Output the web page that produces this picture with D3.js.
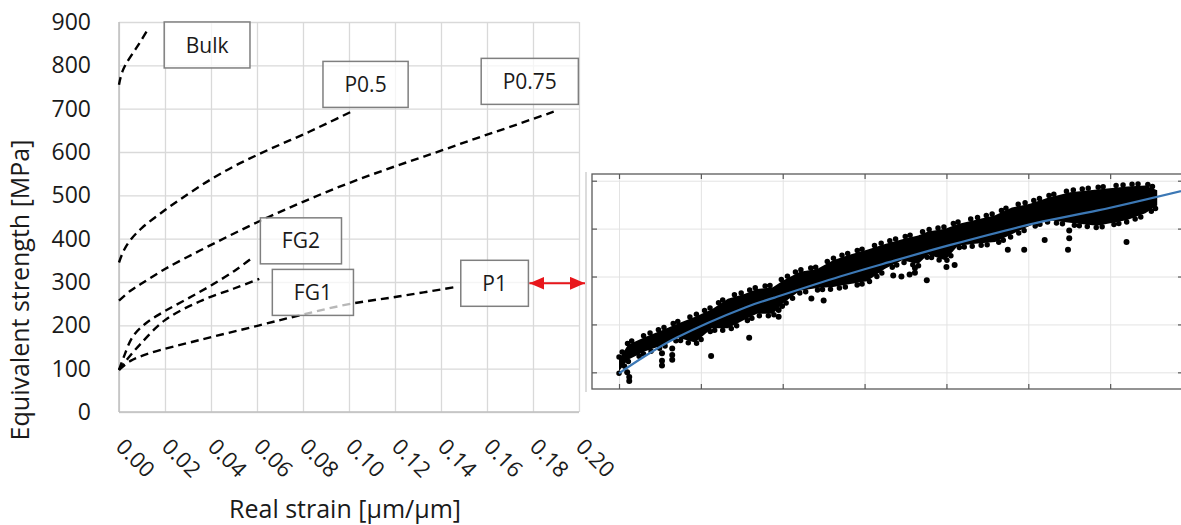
<!DOCTYPE html>
<html>
<head>
<meta charset="utf-8">
<script src="https://cdn.jsdelivr.net/npm/d3@7"></script>
<style>
  body { margin: 0; background: #fff; }
</style>
</head>
<body>
<div id="chart"></div>
<script>
// tick labels
const strainTicks = [0, 0.02, 0.04, 0.06, 0.08, 0.10, 0.12, 0.14, 0.16, 0.18, 0.20];
const stressTicks = [0, 100, 200, 300, 400, 500, 600, 700, 800, 900];

// curves (strain, MPa)
const bulkStrain = [0, 0.0005, 0.0015, 0.003, 0.006, 0.009, 0.012];
const bulkStress = [755, 768, 786, 803, 828, 852, 878];
const p05Strain = [0, 0.002, 0.005, 0.01, 0.02, 0.03, 0.04, 0.05, 0.06, 0.07, 0.08, 0.09, 0.101];
const p05Stress = [345, 372, 397, 425, 466, 503, 537, 567, 593, 617, 640, 665, 693];
const p075Strain = [0, 0.005, 0.01, 0.02, 0.035, 0.05, 0.065, 0.08, 0.095, 0.11, 0.125, 0.14, 0.155, 0.17, 0.189];
const p075Stress = [257, 280, 297, 330, 372, 412, 450, 485, 518, 548, 576, 603, 631, 658, 693];
const fg2Strain = [0, 0.002, 0.006, 0.012, 0.02, 0.03, 0.04, 0.05, 0.057];
const fg2Stress = [97, 126, 174, 206, 233, 262, 292, 325, 352];
const fg1Strain = [0, 0.003, 0.009, 0.02, 0.035, 0.05, 0.061];
const fg1Stress = [97, 118, 155, 212, 255, 285, 307];
const p1Strain = [0, 0.005, 0.0135, 0.035, 0.061, 0.08, 0.1, 0.122, 0.147];
const p1Stress = [97, 118, 136, 166, 200, 225, 249, 267, 289];

// label boxes (centre, in data units)
const labelNames = ['Bulk', 'P0.5', 'P0.75', 'FG2', 'FG1', 'P1'];
const labelStrain = [0.0383, 0.1072, 0.1786, 0.0791, 0.0843, 0.1633];
const labelStress = [847, 756, 763, 395, 276, 297];

// inset: P1 measured points, read as the envelope of the dot cloud
const insetStrainTicks = [0, 0.02, 0.04, 0.06, 0.08, 0.10, 0.12];
const insetStressTicks = [100, 150, 200, 250, 300];
const bandStrain = [0, 0.0022, 0.0064, 0.0105, 0.0144, 0.0186, 0.0227, 0.0266, 0.0308, 0.0337, 0.0376, 0.0401,
  0.0442, 0.0484, 0.0523, 0.0565, 0.0606, 0.0650, 0.0692, 0.0731, 0.0755, 0.0797, 0.0828, 0.0870, 0.0919,
  0.0960, 0.1004, 0.1046, 0.1102, 0.1168, 0.1242, 0.1286, 0.1315];
const bandUpper = [116, 131, 139, 146, 153, 160, 168, 179, 184, 189, 191, 198, 207, 210, 219, 225, 230, 236, 241,
  245, 249, 252, 257, 261, 266, 274, 278, 284, 290, 293, 296, 297, 292];
const bandLower = [99, 111, 120, 126, 134, 129, 144, 144, 153, 159, 159, 170, 183, 186, 187, 190, 193, 206, 215,
  211, 221, 215, 230, 232, 234, 242, 251, 257, 254, 251, 257, 264, 272];
const outStrain = [0.002, 0.0025, 0.0025, 0.0105, 0.0105, 0.0105, 0.013, 0.013, 0.013, 0.0225, 0.0318, 0.039, 0.039,
  0.047, 0.050, 0.067, 0.069, 0.071, 0.0723, 0.0723, 0.0752, 0.080, 0.082, 0.095, 0.099, 0.104, 0.110, 0.110,
  0.1097, 0.124];
const outStress = [100, 95, 91, 120, 112, 107, 125, 118, 113, 117, 136, 165, 158, 177, 175, 201, 200, 202, 204, 209,
  196, 210, 212, 228, 228, 238, 240, 248, 228, 236];
const fitStrain = [0, 0.006, 0.014, 0.031, 0.038, 0.054, 0.066, 0.081, 0.102, 0.117, 0.14];
const fitStress = [99, 116, 136, 168, 178, 200, 215, 233, 256, 269, 292];

const font = '"Open Sans", Lato, sans-serif';
const ink = '#1a1a1a';

const svg = d3.select('#chart')
  .append('svg')
  .attr('width', 1181)
  .attr('height', 525)
  .style('font-family', font);

const plot = {left: 119, right: 579, top: 22, bottom: 412};
const x = d3.scaleLinear().domain([0, 0.2]).range([plot.left, plot.right]);
const y = d3.scaleLinear().domain([0, 900]).range([plot.bottom, plot.top]);

// vertical grid + rotated strain labels
const xAxis = svg.append('g')
  .attr('transform', `translate(0,${plot.bottom})`)
  .call(d3.axisBottom(x).tickValues(strainTicks)
    .tickSize(-(plot.bottom - plot.top)).tickFormat(d3.format('.2f')))
  .attr('font-family', font).attr('font-size', 22);
xAxis.select('.domain').remove();
xAxis.selectAll('line').attr('stroke', '#d9d9d9').attr('stroke-width', 1.3);
xAxis.selectAll('text')
  .attr('y', 0).attr('dy', 0)
  .attr('text-anchor', 'start')
  .attr('transform', 'translate(-5,36) rotate(45)')
  .attr('fill', ink);

// horizontal grid + stress labels
const yAxis = svg.append('g')
  .attr('transform', `translate(${plot.left},0)`)
  .call(d3.axisLeft(y).tickValues(stressTicks)
    .tickSize(-(plot.right - plot.left)).tickPadding(28))
  .attr('font-family', font).attr('font-size', 23);
yAxis.select('.domain').remove();
yAxis.selectAll('line').attr('stroke', '#d9d9d9').attr('stroke-width', 1.3);
yAxis.selectAll('text').attr('fill', ink);

// axis lines
svg.append('line')
  .attr('x1', plot.left).attr('x2', plot.left)
  .attr('y1', plot.top).attr('y2', plot.bottom)
  .attr('stroke', '#bfbfbf').attr('stroke-width', 1.5);
svg.append('line')
  .attr('x1', plot.left).attr('x2', plot.right)
  .attr('y1', plot.bottom).attr('y2', plot.bottom)
  .attr('stroke', '#bfbfbf').attr('stroke-width', 1.5);

// axis titles
svg.append('text')
  .attr('transform', 'translate(29,290) rotate(-90)')
  .attr('text-anchor', 'middle')
  .attr('font-size', 25)
  .attr('fill', ink)
  .text('Equivalent strength [MPa]');
svg.append('text')
  .attr('x', 345).attr('y', 518)
  .attr('text-anchor', 'middle')
  .attr('font-size', 25)
  .attr('fill', ink)
  .text('Real strain [µm/µm]');

// dashed curves
const curves = [
  [bulkStrain, bulkStress],
  [p05Strain, p05Stress],
  [p075Strain, p075Stress],
  [fg2Strain, fg2Stress],
  [fg1Strain, fg1Stress],
  [p1Strain, p1Stress]
];
const line = d3.line()
  .x(d => x(d[0]))
  .y(d => y(d[1]))
  .curve(d3.curveCatmullRom.alpha(0.5));
svg.selectAll('path.curve')
  .data(curves)
  .join('path')
  .attr('class', 'curve')
  .attr('d', d => line(d3.zip(d[0], d[1])))
  .attr('fill', 'none')
  .attr('stroke', '#000')
  .attr('stroke-width', 2.4)
  .attr('stroke-dasharray', '8,5');

// label boxes
const labels = svg.selectAll('g.label')
  .data(labelNames.map((n, i) => ({name: n, sx: labelStrain[i], sy: labelStress[i]})))
  .join('g')
  .attr('class', 'label')
  .attr('transform', d => `translate(${x(d.sx)},${y(d.sy)})`);
labels.append('rect');
labels.append('text')
  .attr('text-anchor', 'middle')
  .attr('dy', '0.36em')
  .attr('font-size', 21)
  .attr('fill', ink)
  .text(d => d.name);
labels.each(function () {
  const g = d3.select(this);
  const w = g.select('text').node().getBBox().width + 43;
  g.select('rect')
    .attr('x', -w / 2).attr('y', -23)
    .attr('width', w).attr('height', 46)
    .attr('fill', '#fff').attr('fill-opacity', 0.72)
    .attr('stroke', '#7f7f7f').attr('stroke-width', 1.5);
});

// inset
const inset = {left: 592, top: 174, right: 1183, bottom: 389};
const xi = d3.scaleLinear().domain([-0.0066, 0.1378]).range([inset.left, inset.right]);
const yi = d3.scaleLinear().domain([82.6, 307]).range([inset.bottom, inset.top]);

svg.append('line')
  .attr('x1', inset.left - 6).attr('x2', inset.left - 6)
  .attr('y1', inset.top - 2).attr('y2', inset.bottom + 3)
  .attr('stroke', '#d0d0d0').attr('stroke-width', 1.5);
svg.append('rect')
  .attr('x', inset.left).attr('y', inset.top)
  .attr('width', inset.right - inset.left).attr('height', inset.bottom - inset.top)
  .attr('fill', '#fff');

svg.append('clipPath').attr('id', 'insetClip')
  .append('rect')
  .attr('x', inset.left).attr('y', inset.top)
  .attr('width', inset.right - inset.left).attr('height', inset.bottom - inset.top);

const ig = svg.append('g').attr('clip-path', 'url(#insetClip)');

const gridX = ig.append('g')
  .attr('transform', `translate(0,${inset.bottom})`)
  .call(d3.axisBottom(xi).tickValues(insetStrainTicks)
    .tickSize(-(inset.bottom - inset.top)).tickFormat(''));
const gridY = ig.append('g')
  .attr('transform', `translate(${inset.left},0)`)
  .call(d3.axisLeft(yi).tickValues(insetStressTicks)
    .tickSize(-(inset.right - inset.left)).tickFormat(''));
[gridX, gridY].forEach(g => {
  g.select('.domain').remove();
  g.selectAll('line').attr('stroke', '#e3e3e3').attr('stroke-width', 1);
});

// dot cloud: filled envelope with a dotted fringe, plus loose points
const band = d3.zip(bandStrain, bandUpper, bandLower);
ig.append('path')
  .attr('d', d3.area()
    .x(d => xi(d[0]))
    .y0(d => yi(d[2]) - 2)
    .y1(d => yi(d[1]) + 2)
    .curve(d3.curveLinear)(band))
  .attr('fill', '#000');
[[1, '0,6,0,10,0,5,0,13,0,7,0,9'], [2, '0,9,0,6,0,12,0,5,0,8']].forEach(([k, dash]) => {
  ig.append('path')
    .attr('d', d3.line()
      .x(d => xi(d[0]))
      .y(d => yi(d[k]))(band))
    .attr('fill', 'none')
    .attr('stroke', '#000')
    .attr('stroke-width', 5.5)
    .attr('stroke-linecap', 'round')
    .attr('stroke-dasharray', dash);
});
ig.selectAll('circle.out')
  .data(d3.zip(outStrain, outStress))
  .join('circle')
  .attr('class', 'out')
  .attr('cx', d => xi(d[0]))
  .attr('cy', d => yi(d[1]))
  .attr('r', 3)
  .attr('fill', '#000');

// fitted curve
ig.append('path')
  .attr('d', d3.line()
    .x(d => xi(d[0]))
    .y(d => yi(d[1]))
    .curve(d3.curveCatmullRom.alpha(0.5))(d3.zip(fitStrain, fitStress)))
  .attr('fill', 'none')
  .attr('stroke', '#3c78b5')
  .attr('stroke-width', 2.2);

// inset frame and inward ticks
svg.append('rect')
  .attr('x', inset.left).attr('y', inset.top)
  .attr('width', inset.right - inset.left).attr('height', inset.bottom - inset.top)
  .attr('fill', 'none').attr('stroke', '#5a5a5a').attr('stroke-width', 1.3);
const tickAxes = [
  [d3.axisLeft(yi).tickValues(insetStressTicks), `translate(${inset.left},0)`],
  [d3.axisRight(yi).tickValues(insetStressTicks), `translate(${inset.right},0)`],
  [d3.axisBottom(xi).tickValues(insetStrainTicks), `translate(0,${inset.bottom})`],
  [d3.axisTop(xi).tickValues(insetStrainTicks), `translate(0,${inset.top})`]
];
tickAxes.forEach(([ax, tr]) => {
  const g = svg.append('g').attr('transform', tr)
    .call(ax.tickSize(-5).tickFormat(''));
  g.select('.domain').remove();
  g.selectAll('line').attr('stroke', '#5a5a5a').attr('stroke-width', 1.2);
});

// red double arrow from P1 box to inset
const defs = svg.append('defs');
defs.append('marker')
  .attr('id', 'head')
  .attr('markerUnits', 'userSpaceOnUse')
  .attr('markerWidth', 15).attr('markerHeight', 13)
  .attr('refX', 15).attr('refY', 6.5)
  .attr('orient', 'auto-start-reverse')
  .append('path')
  .attr('d', 'M0,0 L15,6.5 L0,13 Z')
  .attr('fill', '#e8161b');
const p1Rect = labels.filter(d => d.name === 'P1').select('rect');
const arrowY = y(labelStress[5]);
svg.append('line')
  .attr('x1', x(labelStrain[5]) + (+p1Rect.attr('width')) / 2 + 1)
  .attr('x2', inset.left - 7)
  .attr('y1', arrowY).attr('y2', arrowY)
  .attr('stroke', '#e8161b').attr('stroke-width', 2)
  .attr('marker-start', 'url(#head)')
  .attr('marker-end', 'url(#head)');
</script>
</body>
</html>
